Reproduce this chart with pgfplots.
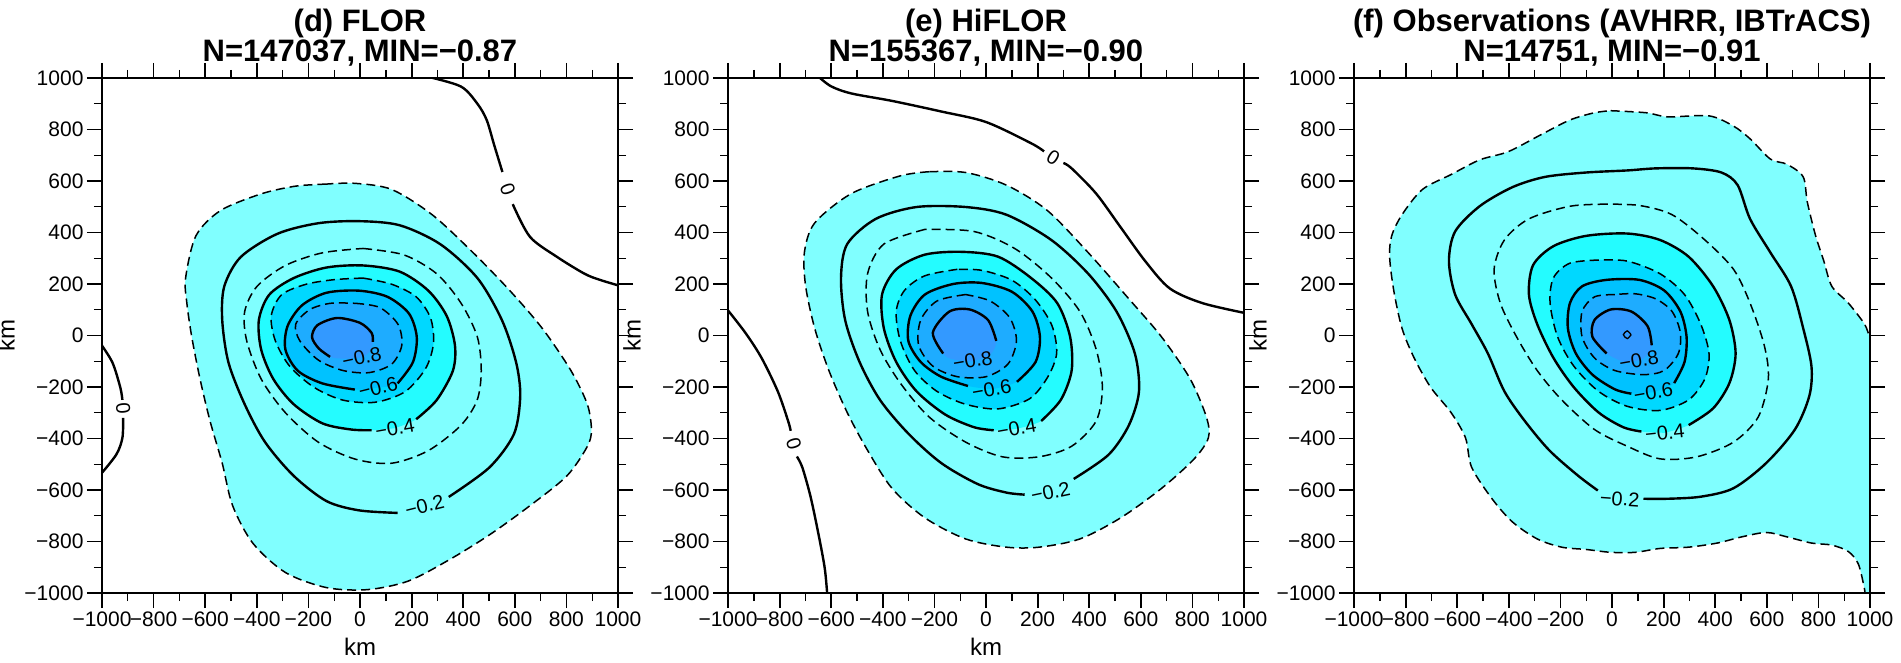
\documentclass[border=0pt]{standalone}
\usepackage{fontspec}
\setmainfont{Liberation Sans}
\usepackage{pgfplots}
\usepackage{pgfplotstable}
\pgfplotsset{compat=1.18}

\definecolor{fa}{RGB}{128,255,255}
\definecolor{fa2}{RGB}{128,255,255}
\definecolor{fb}{RGB}{36,252,255}
\definecolor{fc}{RGB}{0,216,255}
\definecolor{fd}{RGB}{0,194,255}
\definecolor{fe}{RGB}{30,172,255}
\definecolor{ff}{RGB}{51,153,255}

% ---------------- panel (d) FLOR ----------------
\pgfplotstableread{
x y
-130 588
-250 580
-383 550
-541 485
-636 387
-676 223
-671 125
-652 -6
-620 -169
-581 -333
-534 -496
-494 -660
-415 -807
-288 -921
-130 -979
28 -987
186 -954
344 -872
502 -774
660 -660
802 -545
881 -431
897 -366
881 -267
818 -137
707 27
581 174
439 321
281 468
123 567
-20 591
-130 588
}\Da
\pgfplotstableread{
x y
250 -662
nan nan
344 -627
502 -512
597 -382
621 -235
605 -104
550 60
455 223
312 354
154 428
-3 444
-162 436
-320 395
-462 305
-526 191
-534 60
-510 -104
-447 -267
-368 -414
-257 -545
-130 -643
-4 -679
146 -689
nan nan
250 -662
}\Db
\pgfplotstableread{
x y
12 338
170 313
297 240
392 125
455 -6
470 -137
454 -251
391 -349
265 -447
123 -496
-19 -480
-162 -414
-289 -300
-383 -169
-439 -21
-447 93
-399 191
-289 272
-146 321
12 338
}\Dc
\pgfplotstableread{
x y
135 -360
nan nan
218 -325
297 -251
360 -137
368 -38
336 76
265 174
154 248
12 272
-130 264
-257 223
-352 158
-392 60
-383 -55
-336 -169
-257 -267
-146 -341
-35 -365
45 -368
nan nan
135 -360
}\Dd
\pgfplotstableread{
x y
12 223
123 199
218 150
273 69
285 -29
255 -127
175 -218
60 -259
-66 -251
-177 -202
-272 -120
-328 -21
-344 76
-304 158
-209 199
-99 217
12 223
}\De
\pgfplotstableread{
x y
70 -202
nan nan
146 -186
205 -104
220 -6
190 85
107 150
-3 174
-130 166
-225 117
-281 36
-289 -55
-241 -137
-146 -186
-20 -210
nan nan
70 -202
}\Df
\pgfplotstableread{
x y
-19 125
76 109
147 44
162 -38
123 -111
36 -144
-66 -136
-162 -95
-233 -21
-249 44
-194 101
-115 125
-19 125
}\Dg
\pgfplotstableread{
x y
7 -85
-60 -90
-116 -83
-160 -50
-186 -6
-165 40
-89 68
0 49
45 10
50 -25
35 -65
7 -85
}\Dh
\pgfplotstableread{
x y
-116 -83
-160 -50
-186 -6
-165 40
-89 68
0 49
45 10
50 -25
}\Dhl
\pgfplotstableread{
x y
258 1006
391 967
455 900
491 837
520 740
552 635
nan nan
592 510
659 383
764 305
870 240
930 216
1010 192
}\Dza
\pgfplotstableread{
x y
-1010 -25
-960 -104
-929 -202
-921 -250
nan nan
-918 -320
-921 -398
-945 -463
-1010 -545
}\Dzb

% ---------------- panel (e) HiFLOR ----------------
\pgfplotstableread{
x y
-221 636
-332 620
-522 551
-664 437
-704 322
-699 191
-664 28
-609 -136
-538 -299
-459 -446
-364 -594
-237 -708
-79 -790
79 -822
206 -822
364 -790
522 -708
680 -594
807 -479
862 -397
854 -316
791 -168
680 -5
554 142
396 322
237 486
79 584
-79 633
-221 636
}\Ea
\pgfplotstableread{
x y
250 -608
nan nan
340 -557
475 -463
554 -348
593 -217
577 -70
506 93
396 240
253 371
79 469
-79 499
-269 499
-427 453
-538 355
-562 224
-546 60
-490 -103
-411 -250
-301 -381
-174 -495
-32 -577
79 -610
150 -618
nan nan
250 -608
}\Eb
\pgfplotstableread{
x y
-237 412
-396 355
-459 240
-459 93
-411 -54
-332 -185
-221 -316
-79 -414
63 -471
206 -471
332 -430
427 -332
451 -201
427 -54
364 93
253 224
111 338
-47 404
-237 412
}\Ec
\pgfplotstableread{
x y
119 -362
nan nan
214 -332
290 -250
332 -136
326 -5
276 126
174 224
47 306
-95 325
-237 314
-348 257
-403 159
-396 28
-348 -103
-269 -217
-158 -307
-47 -356
30 -368
nan nan
119 -362
}\Ed
\pgfplotstableread{
x y
-111 257
-237 232
-316 175
-348 93
-332 -21
-277 -136
-190 -217
-79 -267
47 -285
170 -245
240 -160
274 -68
255 40
190 140
100 215
-16 253
-111 257
}\Ee
\pgfplotstableread{
x y
22 -209
nan nan
120 -180
192 -103
209 -5
180 93
100 170
-16 204
-127 200
-237 159
-293 77
-301 -21
-253 -103
-174 -160
-70 -196
nan nan
22 -209
}\Ef
\pgfplotstableread{
x y
-79 159
-190 134
-253 60
-261 -38
-206 -119
-111 -160
0 -160
85 -111
118 -21
92 69
16 134
-79 159
}\Eg
\pgfplotstableread{
x y
-55 -100
-130 -92
-166 -70
-206 11
-142 93
-63 101
8 60
40 -21
15 -75
-55 -100
}\Eh
\pgfplotstableread{
x y
-166 -70
-206 11
-142 93
-63 101
8 60
40 -21
}\Ehl
\pgfplotstableread{
x y
-655 1010
-601 968
-522 940
-364 911
-174 870
0 829
174 747
225 715
nan nan
300 670
332 649
427 551
522 420
617 289
712 183
838 126
1010 86
}\Eza
\pgfplotstableread{
x y
-1010 110
-933 11
-870 -87
-807 -217
-767 -332
-757 -370
nan nan
-733 -470
-712 -512
-680 -626
-649 -773
-625 -904
-615 -1010
}\Ezb

% ---------------- panel (f) Observations ----------------
\pgfplotstableread{
x y
-5 873
133 865
217 849
376 853
471 813
535 764
614 685
678 665
741 616
757 518
789 388
821 289
852 191
916 126
979 44
1000 -5
1030 -5
1030 -1030
986 -1030
979 -986
955 -888
916 -839
852 -814
773 -806
678 -782
598 -765
503 -782
408 -806
297 -822
186 -827
90 -842
-5 -842
-100 -831
-195 -822
-290 -790
-386 -724
-465 -634
-544 -512
-568 -397
-624 -299
-703 -201
-767 -87
-814 28
-846 175
-862 306
-854 387
-814 469
-735 567
-624 625
-513 682
-402 714
-275 780
-163 837
-68 865
-5 873
}\Fa
\pgfplotstableread{
x y
30 -634
nan nan
122 -634
217 -634
344 -626
471 -593
598 -495
709 -365
765 -234
773 -119
741 28
694 191
614 322
535 453
487 584
424 633
313 649
170 649
59 641
-100 633
-259 616
-386 576
-513 502
-608 404
-632 289
-608 159
-544 44
-481 -70
-417 -217
-338 -332
-243 -446
-132 -544
-55 -602
nan nan
30 -634
}\Fb
\pgfplotstableread{
x y
-21 510
-163 502
-322 453
-417 371
-457 257
-433 126
-370 -5
-290 -136
-195 -250
-68 -365
59 -430
186 -479
329 -471
471 -414
567 -316
606 -168
590 -38
535 126
471 257
360 371
233 469
106 505
-21 510
}\Fc
\pgfplotstableread{
x y
205 -378
nan nan
297 -348
392 -283
455 -185
479 -70
455 60
392 191
297 306
186 371
59 396
-100 387
-227 347
-306 273
-322 159
-290 44
-227 -87
-148 -201
-52 -299
43 -356
114 -373
nan nan
205 -378
}\Fd
\pgfplotstableread{
x y
-52 293
-163 281
-227 224
-240 126
-211 -5
-148 -119
-52 -217
59 -275
186 -291
297 -250
360 -168
376 -70
344 44
281 159
186 240
59 289
-52 293
}\Fe
\pgfplotstableread{
x y
160 -220
nan nan
241 -185
281 -103
289 -5
265 93
202 175
106 216
-21 216
-116 191
-163 126
-171 28
-140 -70
-76 -152
11 -209
75 -226
nan nan
160 -220
}\Ff
\pgfplotstableread{
x y
11 159
-68 150
-116 93
-116 -5
-68 -87
11 -136
122 -152
202 -136
257 -70
265 11
233 93
170 142
90 162
11 159
}\Fg
\pgfplotstableread{
x y
50 -105
-21 -70
-76 -5
-68 60
-5 101
75 93
138 36
154 -38
120 -90
50 -105
}\Fh
\pgfplotstableread{
x y
-21 -70
-76 -5
-68 60
-5 101
75 93
138 36
154 -38
}\Fhl
\pgfplotstableread{
x y
74 3
59 18
44 3
59 -12
74 3
}\Fi

\pgfplotsset{
  panel/.style={
    width=516pt, height=515pt, scale only axis,
    xmin=-1000, xmax=1000, ymin=-1000, ymax=1000,
    xtick={-1000,-800,...,1000}, ytick={-1000,-800,...,1000},
    xticklabels={−1000,−800,−600,−400,−200,0,200,400,600,800,1000},
    yticklabels={−1000,−800,−600,−400,−200,0,200,400,600,800,1000},
    minor tick num=1, tick align=outside,
    major tick length=15pt, minor tick length=8pt,
    major tick style={line width=1.8pt, black},
    minor tick style={line width=1.4pt, black},
    axis line style={line width=2.5pt, black},
    tick label style={font=\fontsize{21}{21}\selectfont, black},
    xlabel style={at={(axis description cs:0.5,-0.104)}, anchor=center, font=\fontsize{24}{24}\selectfont},
    ylabel style={at={(axis description cs:-0.186,0.5)}, anchor=center, font=\fontsize{24}{24}\selectfont},
    axis on top,
  },
  solidc/.style={black, line width=2.4pt, smooth, unbounded coords=jump},
  dashc/.style={black, line width=1.5pt, dash pattern=on 9pt off 5pt, smooth},
  fillc/.style={smooth, draw=none, fill=#1},
}
\tikzset{lab/.style={font=\fontsize{20}{20}\selectfont, inner sep=0pt, black}}
\newcommand\tfont{\bfseries\fontsize{31}{31}\selectfont}

\begin{document}
\begin{tikzpicture}
\useasboundingbox (0,0) rectangle (1901pt,662pt);

% (d)
\begin{axis}[panel, name=d, at={(102pt,69pt)}, anchor=south west, xlabel={km}, ylabel={km}]
\addplot[fillc=fa] table {\Da};
\addplot[fillc=fa] table {\Db};
\addplot[fillc=fa2] table {\Dc};
\addplot[fillc=fb] table {\Dd};
\addplot[fillc=fc] table {\De};
\addplot[fillc=fd] table {\Df};
\addplot[fillc=fe] table {\Dg};
\addplot[fillc=ff] table {\Dh};
\addplot[dashc] table {\Da};
\addplot[solidc] table {\Db};
\addplot[dashc] table {\Dc};
\addplot[solidc] table {\Dd};
\addplot[dashc] table {\De};
\addplot[solidc] table {\Df};
\addplot[dashc] table {\Dg};
\addplot[solidc] table {\Dhl};
\addplot[solidc] table {\Dza};
\addplot[solidc] table {\Dzb};
\node[lab, rotate=14] at (axis cs:250,-662) {−0.2};
\node[lab, rotate=10] at (axis cs:135,-360) {−0.4};
\node[lab, rotate=14] at (axis cs:70,-202) {−0.6};
\node[lab, rotate=12] at (axis cs:7,-85) {−0.8};
\node[lab, rotate=-70] at (axis cs:573,568) {0};
\node[lab, rotate=-85] at (axis cs:-918,-285) {0};
\end{axis}
\node[anchor=base, font=\tfont] at ([yshift=46pt]d.north) {(d) FLOR};
\node[anchor=base, font=\tfont] at ([yshift=16pt]d.north) {N=147037, MIN=−0.87};

% (e)
\begin{axis}[panel, name=e, at={(728pt,69pt)}, anchor=south west, xlabel={km}, ylabel={km}]
\addplot[fillc=fa] table {\Ea};
\addplot[fillc=fa] table {\Eb};
\addplot[fillc=fa2] table {\Ec};
\addplot[fillc=fb] table {\Ed};
\addplot[fillc=fc] table {\Ee};
\addplot[fillc=fd] table {\Ef};
\addplot[fillc=fe] table {\Eg};
\addplot[fillc=ff] table {\Eh};
\addplot[dashc] table {\Ea};
\addplot[solidc] table {\Eb};
\addplot[dashc] table {\Ec};
\addplot[solidc] table {\Ed};
\addplot[dashc] table {\Ee};
\addplot[solidc] table {\Ef};
\addplot[dashc] table {\Eg};
\addplot[solidc] table {\Ehl};
\addplot[solidc] table {\Eza};
\addplot[solidc] table {\Ezb};
\node[lab, rotate=12] at (axis cs:250,-608) {−0.2};
\node[lab, rotate=10] at (axis cs:119,-362) {−0.4};
\node[lab, rotate=10] at (axis cs:22,-209) {−0.6};
\node[lab, rotate=10] at (axis cs:-52,-98) {−0.8};
\node[lab, rotate=-32] at (axis cs:261,692) {0};
\node[lab, rotate=-73] at (axis cs:-745,-420) {0};
\end{axis}
\node[anchor=base, font=\tfont] at ([yshift=46pt]e.north) {(e) HiFLOR};
\node[anchor=base, font=\tfont] at ([yshift=16pt]e.north) {N=155367, MIN=−0.90};

% (f)
\begin{axis}[panel, name=f, at={(1354pt,69pt)}, anchor=south west, ylabel={km}]
\addplot[fillc=fa] table {\Fa};
\addplot[fillc=fa] table {\Fb};
\addplot[fillc=fa2] table {\Fc};
\addplot[fillc=fb] table {\Fd};
\addplot[fillc=fc] table {\Fe};
\addplot[fillc=fd] table {\Ff};
\addplot[fillc=fe] table {\Fg};
\addplot[fillc=ff] table {\Fh};
\addplot[dashc] table {\Fa};
\addplot[solidc] table {\Fb};
\addplot[dashc] table {\Fc};
\addplot[solidc] table {\Fd};
\addplot[dashc] table {\Fe};
\addplot[solidc] table {\Ff};
\addplot[dashc] table {\Fg};
\addplot[solidc] table {\Fhl};
\addplot[black, line width=1.3pt, smooth] table {\Fi};
\node[lab, rotate=-4] at (axis cs:30,-634) {−0.2};
\node[lab, rotate=6] at (axis cs:205,-378) {−0.4};
\node[lab, rotate=10] at (axis cs:160,-220) {−0.6};
\node[lab, rotate=10] at (axis cs:104,-96) {−0.8};
\end{axis}
\node[anchor=base, font=\tfont] at ([yshift=46pt]f.north) {(f) Observations (AVHRR, IBTrACS)};
\node[anchor=base, font=\tfont] at ([yshift=16pt]f.north) {N=14751, MIN=−0.91};
\end{tikzpicture}
\end{document}
